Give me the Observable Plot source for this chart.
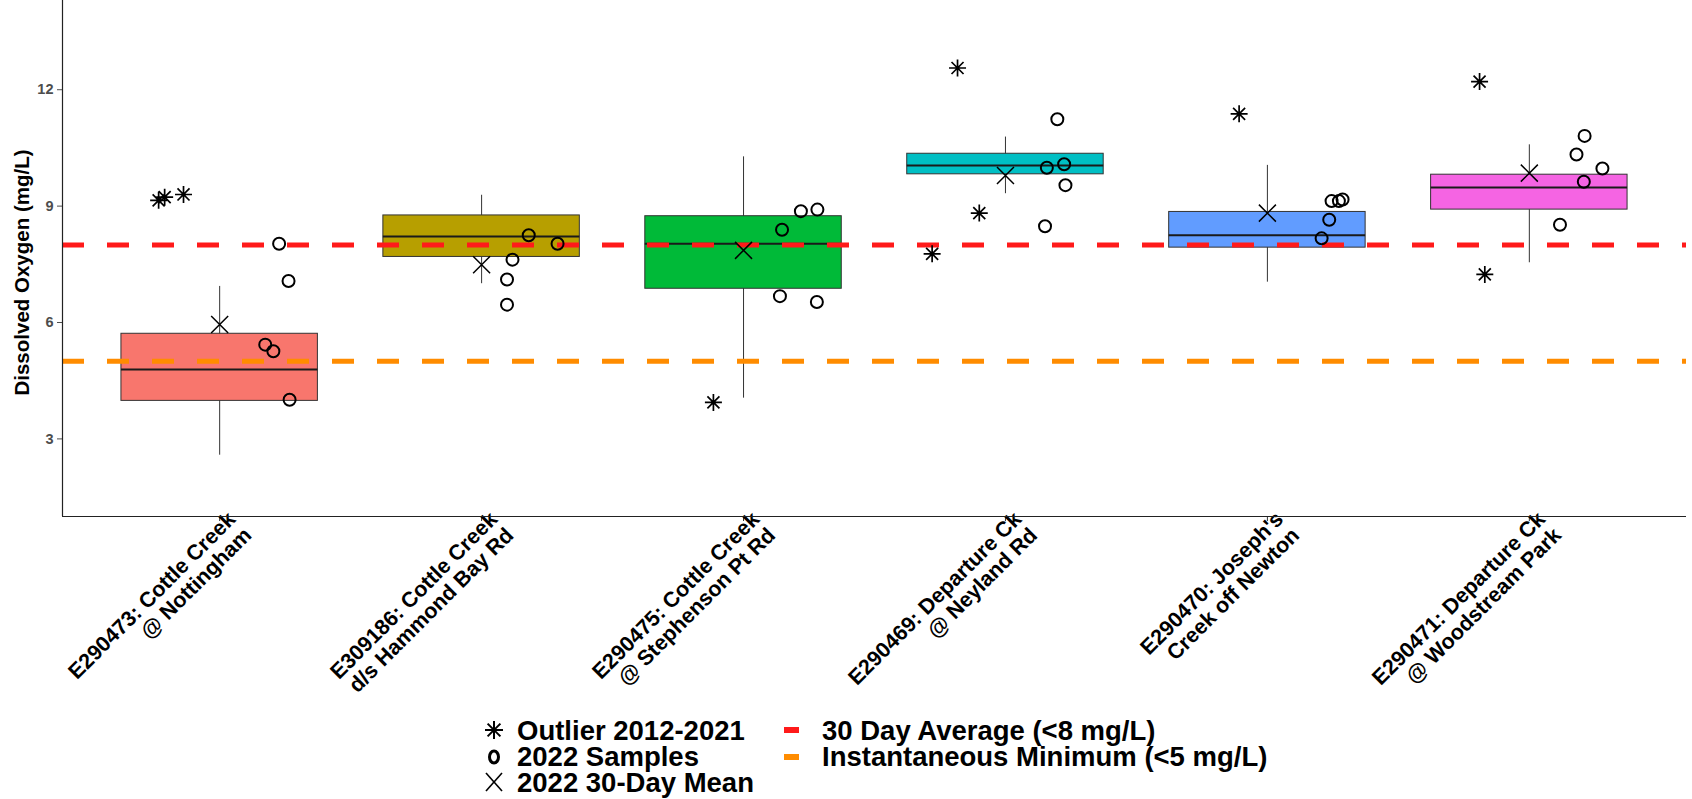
<!DOCTYPE html>
<html>
<head>
<meta charset="utf-8">
<script src="https://cdn.jsdelivr.net/npm/d3@7"></script>
<script src="https://cdn.jsdelivr.net/npm/@observablehq/plot@0.6"></script>
<style>
  body { margin: 0; background: #fff; font-family: "Liberation Sans", Arial, sans-serif; }
  #wrap { position: relative; width: 1692px; height: 799px; overflow: hidden; background: #fff; }
  #chart { position: absolute; left: 0; top: 0; }
  .lg { position: absolute; height: 25px; display: flex; align-items: center; font-weight: bold; font-size: 27.5px; line-height: 25px; color: #000; white-space: nowrap; }
  .lg svg { display: block; }
</style>
</head>
<body>
<div id="wrap">
  <div id="chart"></div>
  <div id="legend"></div>
</div>
<script>
// ---------------- data ----------------
const sites = ["E290473", "E309186", "E290475", "E290469", "E290470", "E290471"];
const siteLabels = [
  "E290473: Cottle Creek\n@ Nottingham",
  "E309186: Cottle Creek\nd/s Hammond Bay Rd",
  "E290475: Cottle Creek\n@ Stephenson Pt Rd",
  "E290469: Departure Ck\n@ Neyland Rd",
  "E290470: Joseph's\nCreek off Newton",
  "E290471: Departure Ck\n@ Woodstream Park"
];
const boxColors = ["#F8766D", "#B79F00", "#00BA38", "#00BFC4", "#619CFF", "#F564E3"];

// historical (2012-2021) box statistics
const q1 =          [3.98, 7.69, 6.87, 9.82, 7.93, 8.91];
const median =      [4.79, 8.22, 8.03, 10.05, 8.25, 9.48];
const q3 =          [5.71, 8.76, 8.74, 10.35, 8.85, 9.81];
const whiskerLow =  [2.58, 7.00, 4.05, 9.32, 7.04, 7.54];
const whiskerHigh = [6.93, 9.28, 10.27, 10.78, 10.05, 10.58];

// 2022 30-day mean
const mean30Day = [5.95, 7.49, 7.86, 9.79, 8.82, 9.85];

// 2022 samples (mg/L) and their horizontal jitter (in category units)
const samples2022 = [
  [8.03, 7.07, 5.43, 5.26, 4.01],
  [8.25, 8.03, 7.62, 7.11, 6.46],
  [8.39, 8.87, 8.91, 6.68, 6.53],
  [11.24, 9.99, 10.08, 9.54, 8.48],
  [9.13, 9.13, 9.17, 8.65, 8.17],
  [10.81, 10.33, 9.97, 9.63, 8.52]
];
const sampleJitter = [
  [0.227, 0.263, 0.174, 0.205, 0.267],
  [0.180, 0.290, 0.118, 0.097, 0.097],
  [0.147, 0.219, 0.282, 0.139, 0.280],
  [0.198, 0.158, 0.224, 0.229, 0.151],
  [0.245, 0.273, 0.287, 0.236, 0.207],
  [0.211, 0.180, 0.279, 0.208, 0.117]
];

// outliers 2012-2021 and their jitter
const outliers2012 = [
  [9.15, 9.23, 9.30],
  [],
  [3.94],
  [12.56, 8.82, 7.77],
  [11.38],
  [12.21, 7.24]
];
const outlierJitter = [
  [-0.233, -0.210, -0.138],
  [],
  [-0.115],
  [-0.183, -0.100, -0.280],
  [-0.108],
  [-0.190, -0.170]
];

// guideline thresholds
const thresholdValues = [8, 5];
const thresholdColors = ["#ff1a1a", "#ff8c00"];
const thresholdLabels = ["30 Day Average (<8 mg/L)", "Instantaneous Minimum (<5 mg/L)"];
const pointLegendLabels = ["Outlier 2012-2021", "2022 Samples", "2022 30-Day Mean"];
const yTicks = [3, 6, 9, 12];
const yLabel = "Dissolved Oxygen (mg/L)";

// ---------------- derived tables ----------------
const boxes = sites.map((s, i) => ({
  i, site: s, q1: q1[i], med: median[i], q3: q3[i],
  lo: whiskerLow[i], hi: whiskerHigh[i], mean: mean30Day[i], color: boxColors[i]
}));
const samplePts = samples2022.flatMap((vals, i) => vals.map((v, k) => ({x: i + sampleJitter[i][k], y: v})));
const outlierPts = outliers2012.flatMap((vals, i) => vals.map((v, k) => ({x: i + outlierJitter[i][k], y: v})));
const thresholds = thresholdValues.map((v, k) => ({value: v, color: thresholdColors[k]}));

// custom symbols
const asterisk8 = {
  draw(ctx, size) {
    const r = Math.sqrt(size / Math.PI), d = r * Math.SQRT1_2;
    ctx.moveTo(-r, 0); ctx.lineTo(r, 0);
    ctx.moveTo(0, -r); ctx.lineTo(0, r);
    ctx.moveTo(-d, -d); ctx.lineTo(d, d);
    ctx.moveTo(-d, d); ctx.lineTo(d, -d);
  }
};
const crossX = {
  draw(ctx, size) {
    const r = Math.sqrt(size / Math.PI);
    ctx.moveTo(-r, -r); ctx.lineTo(r, r);
    ctx.moveTo(-r, r); ctx.lineTo(r, -r);
  }
};

const half = 0.375;
const xDomain = [-0.6, sites.length - 0.4];
const yDomain = [1.0, 14.3];
const xTicks = d3.range(sites.length);

const chart = Plot.plot({
  width: 1692,
  height: 705,
  marginLeft: 62,
  marginRight: 6,
  marginTop: 0,
  marginBottom: 189,
  style: {background: "white", fontFamily: "'Liberation Sans', Arial, sans-serif"},
  x: {type: "linear", domain: xDomain},
  y: {type: "linear", domain: yDomain},
  color: {type: "identity"},
  marks: [
    // whiskers
    Plot.ruleX(boxes, {x: "i", y1: "lo", y2: "hi", stroke: "#333333", strokeWidth: 1}),
    // boxes
    Plot.rect(boxes, {x1: d => d.i - half, x2: d => d.i + half, y1: "q1", y2: "q3",
      fill: "color", stroke: "#333333", strokeWidth: 1}),
    // medians
    Plot.ruleY(boxes, {x1: d => d.i - half, x2: d => d.i + half, y: "med", stroke: "#1a1a1a", strokeWidth: 2}),
    // guideline dashed lines
    Plot.ruleY(thresholds, {y: "value", stroke: "color", strokeWidth: 5, strokeDasharray: "22,23"}),
    // outliers
    Plot.dot(outlierPts, {x: "x", y: "y", symbol: asterisk8, r: 8.5, fill: "none", stroke: "black", strokeWidth: 1.7}),
    // 2022 samples
    Plot.dot(samplePts, {x: "x", y: "y", r: 6, fill: "none", stroke: "black", strokeWidth: 2}),
    // 2022 30-day mean
    Plot.dot(boxes, {x: "i", y: "mean", symbol: crossX, r: 8.5, fill: "none", stroke: "black", strokeWidth: 1.5}),
    // axes
    Plot.axisY({ticks: yTicks, tickSize: 5, tickPadding: 4, color: "#4d4d4d", fontSize: 14.5, fontWeight: "bold", label: null}),
    // x tick marks
    Plot.axisX({ticks: xTicks, tickFormat: () => "", tickSize: 5, color: "#333", label: null}),
    // x tick labels (rotated)
    Plot.axisX({ticks: xTicks, tickFormat: i => siteLabels[i], tickRotate: -45, tickSize: 0, tickPadding: 9,
      color: "black", fontSize: 21.5, fontWeight: "bold", lineHeight: 1.05, label: null, dx: 20, dy: -2}),
    Plot.ruleX([xDomain[0]], {stroke: "#222", strokeWidth: 1.2}),
    Plot.ruleY([yDomain[0]], {stroke: "#222", strokeWidth: 1.2}),
    Plot.text([yLabel], {frameAnchor: "left", rotate: -90, dx: -40, dy: 14, textAnchor: "middle", lineAnchor: "middle",
      fontSize: 20.5, fontWeight: "bold", fill: "black", text: d => d})
  ]
});
document.getElementById("chart").appendChild(chart);

// ---------------- legend ----------------
const legend = document.getElementById("legend");
const rowY = [730, 756.5, 782];
const symSvg = [
  '<svg width="22" height="22" viewBox="-11 -11 22 22"><g stroke="black" stroke-width="2" fill="none"><line x1="-9" y1="0" x2="9" y2="0"/><line x1="0" y1="-9" x2="0" y2="9"/><line x1="-6.4" y1="-6.4" x2="6.4" y2="6.4"/><line x1="-6.4" y1="6.4" x2="6.4" y2="-6.4"/></g></svg>',
  '<svg width="22" height="22" viewBox="-11 -11 22 22"><ellipse cx="0" cy="0" rx="4.5" ry="6" stroke="black" stroke-width="3" fill="none"/></svg>',
  '<svg width="22" height="22" viewBox="-11 -11 22 22"><g stroke="black" stroke-width="1.6"><line x1="-8" y1="-9" x2="8" y2="9"/><line x1="-8" y1="9" x2="8" y2="-9"/></g></svg>'
];
pointLegendLabels.forEach((lab, k) => {
  const sym = document.createElement("div");
  sym.className = "lg";
  sym.style.left = "483px";
  sym.style.top = (rowY[k] - 12.5) + "px";
  sym.innerHTML = symSvg[k];
  legend.appendChild(sym);
  const t = document.createElement("div");
  t.className = "lg";
  t.style.left = "517px";
  t.style.top = (rowY[k] - 12.5) + "px";
  t.textContent = lab;
  legend.appendChild(t);
});
thresholdLabels.forEach((lab, k) => {
  const sym = document.createElement("div");
  sym.className = "lg";
  sym.style.left = "784px";
  sym.style.top = (rowY[k] - 12.5) + "px";
  sym.innerHTML = '<svg width="16" height="8"><rect x="0" y="1" width="15" height="6" fill="' + thresholdColors[k] + '"/></svg>';
  legend.appendChild(sym);
  const t = document.createElement("div");
  t.className = "lg";
  t.style.left = "822px";
  t.style.top = (rowY[k] - 12.5) + "px";
  t.textContent = lab;
  legend.appendChild(t);
});
</script>
</body>
</html>
